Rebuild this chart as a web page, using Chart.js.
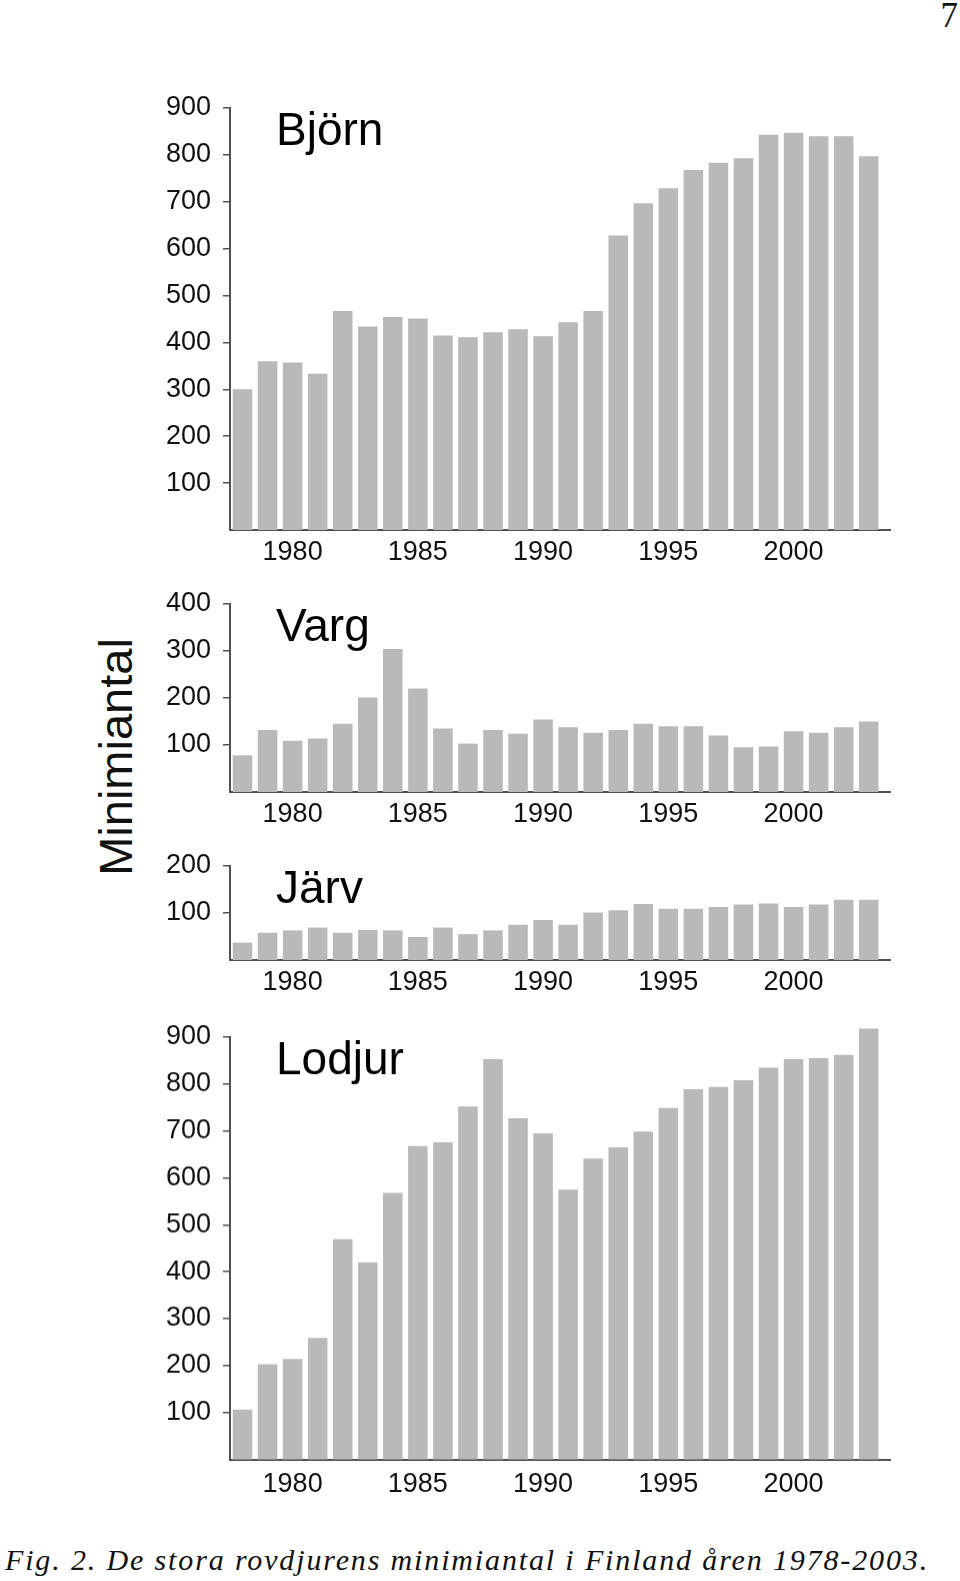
<!DOCTYPE html>
<html>
<head>
<meta charset="utf-8">
<script src="https://cdn.jsdelivr.net/npm/chart.js@4.4.0/dist/chart.umd.min.js"></script>
<style>
  body { margin: 0; background: #fff; width: 960px; height: 1581px; position: relative; overflow: hidden;
         font-family: "Liberation Sans", Arial, sans-serif; }
  .panel { position: absolute; left: 150px; width: 760px; }
  #ylabel { position: absolute; left: 115px; top: 757px; font-size: 47px; line-height: 1; color: #111;
            white-space: nowrap; transform: translate(-50%, -50%) rotate(-90deg); }
  #caption { position: absolute; left: 5px; top: 1545px; font-family: "Liberation Serif", "Times New Roman", serif;
             font-style: italic; font-size: 30px; line-height: 30px; white-space: nowrap; color: #111; }
  #pagenum { position: absolute; right: 2px; top: -2px; font-family: "Liberation Serif", "Times New Roman", serif;
             font-size: 35px; line-height: 35px; color: #111; }
</style>
</head>
<body>
<div id="pagenum">7</div>
<div id="ylabel">Minimiantal</div>
<div class="panel" id="wrapBjorn"><canvas id="bjorn"></canvas></div>
<div class="panel" id="wrapVarg"><canvas id="varg"></canvas></div>
<div class="panel" id="wrapJarv"><canvas id="jarv"></canvas></div>
<div class="panel" id="wrapLodjur"><canvas id="lodjur"></canvas></div>
<div id="caption">Fig. 2. De stora rovdjurens minimiantal i Finland åren 1978-2003.</div>
<script>
const years = [1978, 1979, 1980, 1981, 1982, 1983, 1984, 1985, 1986, 1987, 1988, 1989, 1990,
               1991, 1992, 1993, 1994, 1995, 1996, 1997, 1998, 1999, 2000, 2001, 2002, 2003];
const xTickLabels = [1980, 1985, 1990, 1995, 2000];

// minimum counts
const bjornValues = [300, 360, 357, 333, 467, 434, 454, 451, 415, 411, 422, 428, 413,
                     443, 467, 628, 697, 729, 768, 783, 793, 843, 847, 840, 840, 797];
const vargValues = [78, 132, 109, 114, 145, 201, 304, 220, 135, 103, 132, 124, 154,
                    138, 126, 132, 145, 140, 140, 120, 95, 97, 129, 126, 138, 150];
const jarvValues = [37, 58, 63, 69, 58, 64, 63, 49, 69, 55, 63, 75, 85,
                    75, 101, 106, 119, 109, 109, 113, 118, 120, 113, 118, 128, 128];
const lodjurValues = [106, 203, 214, 259, 469, 420, 568, 668, 676, 752, 853, 727, 695,
                      575, 641, 665, 699, 749, 789, 794, 808, 835, 853, 855, 862, 918];

const barColor = '#b9b9b9';
const axisColor = '#505050';
const tickFont = { family: '"Liberation Sans", Arial, sans-serif', size: 27 };

// draws the animal name inside the plot area
const panelName = {
  id: 'panelName',
  afterDraw(chart, args, opts) {
    const { ctx, chartArea } = chart;
    ctx.save();
    ctx.font = '46px "Liberation Sans", Arial, sans-serif';
    ctx.fillStyle = '#000';
    ctx.textBaseline = 'alphabetic';
    ctx.fillText(opts.text, chartArea.left + 46, chartArea.top + 37);
    ctx.restore();
  }
};

const makePanel = (canvasId, wrapId, name, values, yMax, plotTop, plotBottom, labelPad) => {
  // top padding must exceed half a tick label + tick padding, or chart.js pushes the plot down
  const padTop = 34, axisH = 50;
  const wrap = document.getElementById(wrapId);
  wrap.style.top = (plotTop - padTop) + 'px';
  wrap.style.height = (padTop + plotBottom - plotTop + axisH) + 'px';
  const ctx = document.getElementById(canvasId).getContext('2d');
  return new Chart(ctx, {
    type: 'bar',
    data: {
      labels: years,
      datasets: [{ data: values, backgroundColor: barColor, borderWidth: 0, clip: false,
                   barPercentage: 0.78, categoryPercentage: 1 }]
    },
    options: {
      responsive: true,
      maintainAspectRatio: false,
      animation: false,
      devicePixelRatio: 1,
      layout: { padding: { top: padTop, right: 20, bottom: 0, left: 0 } },
      plugins: { legend: { display: false }, tooltip: { enabled: false }, panelName: { text: name } },
      scales: {
        x: {
          type: 'linear',
          offset: false,
          min: 1977.5,
          max: 2003.85,
          grid: { display: false },
          border: { display: true, color: axisColor, width: 2 },
          ticks: { font: tickFont, color: '#111', padding: labelPad, maxRotation: 0, autoSkip: false,
                   callback: v => String(v) },
          afterBuildTicks: s => { s.ticks = xTickLabels.map(v => ({ value: v })); },
          afterFit: s => { s.height = axisH; }
        },
        y: {
          min: 0,
          max: yMax,
          grid: { display: true, drawOnChartArea: false, drawTicks: true, tickLength: 7,
                  color: axisColor, lineWidth: 1.5 },
          border: { display: true, color: axisColor, width: 2 },
          ticks: { stepSize: 100, font: tickFont, color: '#111', padding: 12 },
          afterBuildTicks: s => { s.ticks = s.ticks.filter(t => t.value !== 0); },
          afterFit: s => { s.width = 80; }
        }
      }
    },
    plugins: [panelName]
  });
};

makePanel('bjorn', 'wrapBjorn', 'Björn', bjornValues, 900, 108.3, 530.3, -2);
makePanel('varg', 'wrapVarg', 'Varg', vargValues, 400, 604.3, 792.3, -2);
makePanel('jarv', 'wrapJarv', 'Järv', jarvValues, 200, 866.3, 960.3, -2);
makePanel('lodjur', 'wrapLodjur', 'Lodjur', lodjurValues, 900, 1037, 1458.5, 1);

// stretch the caption to the width it has in the print
const cap = document.getElementById('caption');
const natural = cap.getBoundingClientRect().width;
cap.style.letterSpacing = ((924 - natural) / cap.textContent.length) + 'px';
</script>
</body>
</html>
